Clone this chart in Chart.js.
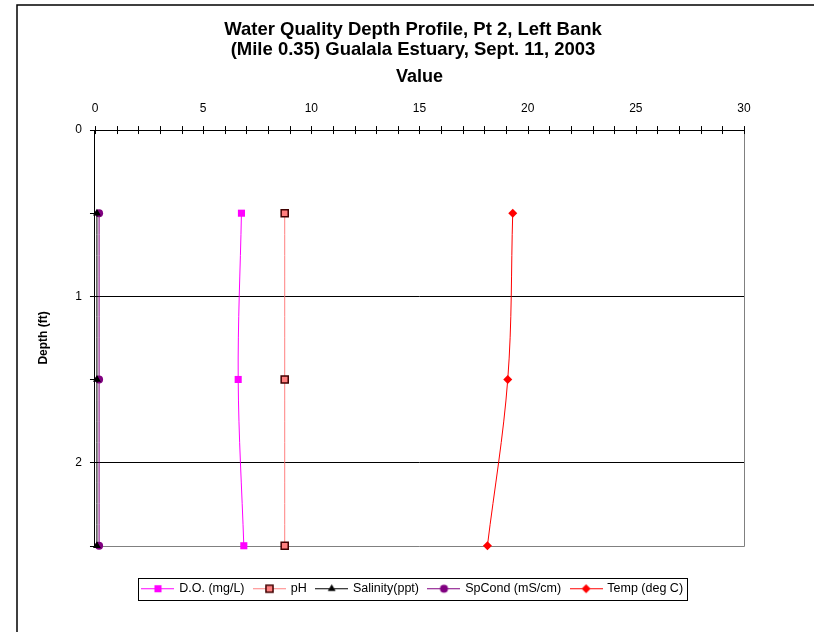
<!DOCTYPE html>
<html>
<head>
<meta charset="utf-8">
<script src="https://cdn.jsdelivr.net/npm/chart.js@4.4.0/dist/chart.umd.min.js"></script>
<style>
  html, body { margin: 0; padding: 0; background: #fff; }
  canvas { display: block; }
</style>
</head>
<body>
<canvas id="myChart" width="814" height="632"></canvas>
<script>
// depth (ft) of each reading
const depths = [0.5, 1.5, 2.5];
const seriesNames = ['D.O. (mg/L)', 'pH', 'Salinity(ppt)', 'SpCond (mS/cm)', 'Temp (deg C)'];
const doValues = [6.77, 6.62, 6.88];
const phValues = [8.77, 8.77, 8.77];
const salinityValues = [0.09, 0.09, 0.09];
const spCondValues = [0.19, 0.19, 0.19];
const tempValues = [19.31, 19.08, 18.14];
const xTickValues = [0, 5, 10, 15, 20, 25, 30];
const yTickValues = [0, 1, 2];

const looks = [
  { line: '#ff00ff', fill: '#ff00ff', edge: '#ff00ff', shape: 'rect', r: 5, bw: 0 },
  { line: '#ff8080', fill: '#ff8080', edge: '#400000', shape: 'rect', r: 5, bw: 1.5 },
  { line: '#000000', fill: '#000000', edge: '#000000', shape: 'triangle', r: 4.5, bw: 0 },
  { line: '#800080', fill: '#800080', edge: '#800080', shape: 'circle', r: 4, bw: 0 },
  { line: '#ff0000', fill: '#ff0000', edge: '#ff0000', shape: 'rectRot', r: 4.5, bw: 0 }
];
const allValues = [doValues, phValues, salinityValues, spCondValues, tempValues];

function points(vals) {
  return vals.map((v, i) => ({ x: v, y: depths[i] }));
}

// little line+marker picture for the legend
function legendIcon(s) {
  const c = document.createElement('canvas');
  c.width = 33; c.height = 13;
  const g = c.getContext('2d');
  g.strokeStyle = s.line; g.lineWidth = 1;
  g.beginPath(); g.moveTo(0, 6.5); g.lineTo(33, 6.5); g.stroke();
  g.fillStyle = s.fill; g.strokeStyle = s.edge; g.lineWidth = s.bw;
  Chart.helpers.drawPoint(g, { pointStyle: s.shape, radius: s.r, borderWidth: s.bw, rotation: 0 }, 16.5, 6.5);
  return c;
}

const datasets = allValues.map((vals, i) => ({
  label: seriesNames[i],
  data: points(vals),
  showLine: true,
  borderColor: looks[i].line,
  borderWidth: 1,
  tension: 0.35,
  pointStyle: looks[i].shape,
  pointRadius: looks[i].r,
  pointBackgroundColor: looks[i].fill,
  pointBorderColor: looks[i].edge,
  pointBorderWidth: looks[i].bw,
  clip: false
}));

const frame = {
  id: 'frame',
  beforeDraw(chart) {
    const ctx = chart.ctx;
    ctx.save();
    ctx.fillStyle = '#fff';
    ctx.fillRect(0, 0, chart.width, chart.height);
    ctx.strokeStyle = '#000';
    ctx.lineWidth = 1.5;
    ctx.strokeRect(17, 5, 1000, 1000);
    ctx.restore();
  },
  beforeDatasetsDraw(chart) {
    const ctx = chart.ctx, a = chart.chartArea;
    const xs = chart.scales.x, ys = chart.scales.y;
    ctx.save();
    ctx.lineWidth = 1;
    ctx.strokeStyle = '#808080';
    ctx.beginPath();
    ctx.moveTo(Math.round(a.right) + 0.5, a.top);
    ctx.lineTo(Math.round(a.right) + 0.5, Math.round(a.bottom) + 0.5);
    ctx.lineTo(a.left, Math.round(a.bottom) + 0.5);
    ctx.stroke();
    ctx.strokeStyle = '#000';
    ctx.beginPath();
    for (let v = 0; v <= 30; v++) {
      const px = Math.round(xs.getPixelForValue(v)) + 0.5;
      ctx.moveTo(px, a.top - 4);
      ctx.lineTo(px, a.top + 4);
    }
    [0.5, 1.5, 2.5].forEach(v => {
      const py = Math.round(ys.getPixelForValue(v)) + 0.5;
      ctx.moveTo(a.left - 5, py);
      ctx.lineTo(a.left, py);
    });
    ctx.stroke();
    ctx.restore();
  },
  afterDraw(chart) {
    const boxes = chart.legend.legendHitBoxes;
    if (!boxes || !boxes.length) return;
    const first = boxes[0], last = boxes[boxes.length - 1];
    const ctx = chart.ctx;
    ctx.save();
    ctx.strokeStyle = '#000';
    ctx.lineWidth = 1;
    const l = Math.round(first.left - 5) + 0.5;
    const r = Math.round(last.left + last.width + 4) + 0.5;
    const t = Math.round(first.top + first.height / 2 - 11) + 0.5;
    ctx.strokeRect(l, t, r - l, 22);
    ctx.restore();
  }
};

Chart.defaults.font.family = '"Liberation Sans", Arial, sans-serif';
Chart.defaults.color = '#000';

const myChart = new Chart(document.getElementById('myChart'), {
  type: 'scatter',
  data: { datasets: datasets },
  plugins: [frame],
  options: {
    responsive: false,
    animation: false,
    devicePixelRatio: 1,
    layout: { padding: { left: 20, right: 8, top: 5, bottom: 27 } },
    scales: {
      x: {
        type: 'linear',
        position: 'top',
        min: 0,
        max: 30,
        afterBuildTicks: s => { s.ticks = xTickValues.map(v => ({ value: v })); },
        ticks: { font: { size: 12 }, padding: 13.8, color: '#000' },
        grid: { display: false, drawTicks: false },
        border: { display: true, color: '#000', width: 1 },
        title: {
          display: true, text: 'Value', color: '#000',
          font: { size: 18, weight: 'bold' },
          padding: { top: 4.5, bottom: 0 }
        }
      },
      y: {
        type: 'linear',
        reverse: true,
        min: 0,
        max: 2.5,
        afterBuildTicks: s => { s.ticks = yTickValues.map(v => ({ value: v })); },
        ticks: { font: { size: 12 }, padding: 8, color: '#000' },
        grid: { color: '#000', lineWidth: 1, tickLength: 5, drawTicks: true },
        border: { display: true, color: '#000', width: 1 },
        title: {
          display: true, text: 'Depth (ft)', color: '#000',
          font: { size: 12, weight: 'bold' },
          padding: { top: 16.8, bottom: 16.1 }
        }
      },
      gapRight: {
        type: 'linear', position: 'right', min: 0, max: 1,
        grid: { display: false }, ticks: { display: false }, border: { display: false },
        afterFit: s => { s.width = 62; }
      },
      gapBottom: {
        type: 'linear', position: 'bottom', min: 0, max: 1,
        grid: { display: false }, ticks: { display: false }, border: { display: false },
        afterFit: s => { s.height = 26.75; }
      }
    },
    plugins: {
      tooltip: { enabled: false },
      title: {
        display: true,
        text: ['Water Quality Depth Profile, Pt 2, Left Bank', '(Mile 0.35) Gualala Estuary, Sept. 11, 2003'],
        color: '#000',
        font: { size: 18.5, weight: 'bold', lineHeight: 1.08 },
        padding: { top: 15, bottom: 2 }
      },
      legend: {
        position: 'bottom',
        labels: {
          usePointStyle: true,
          pointStyleWidth: 30,
          padding: 10,
          color: '#000',
          font: { size: 12.5 },
          generateLabels: chart => chart.data.datasets.map((d, i) => ({
            text: d.label,
            pointStyle: legendIcon(looks[i]),
            fillStyle: looks[i].fill,
            strokeStyle: looks[i].line,
            lineWidth: 0,
            hidden: false,
            datasetIndex: i
          }))
        }
      }
    }
  }
});
</script>
</body>
</html>
